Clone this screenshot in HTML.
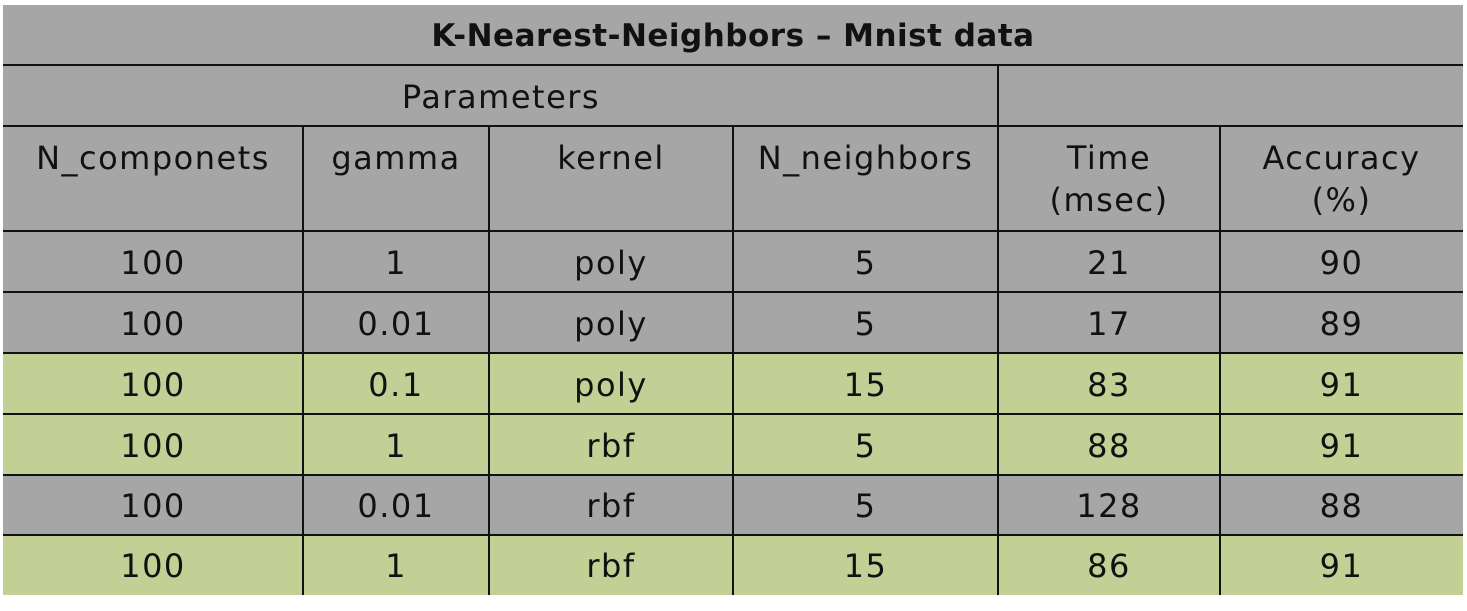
<!DOCTYPE html>
<html><head><style>
body{margin:0;width:1467px;height:611px;background:#fff;position:relative;overflow:hidden;font-family:"DejaVu Sans","Liberation Sans",sans-serif;}
.c{position:absolute;box-sizing:border-box;display:flex;align-items:center;justify-content:center;text-align:center;font-size:32px;color:#111;line-height:42px;letter-spacing:1.5px;font-weight:normal;}
.g{background:#a6a6a6}.v{background:#c2d096}
.h{position:absolute;background:#111;height:2px}
.w{position:absolute;background:#111;width:2px}
</style></head><body>
<div class="c g" style="left:3px;top:5px;width:1460px;height:61px;font-weight:bold;font-size:31px;letter-spacing:0.5px">K-Nearest-Neighbors – Mnist data</div>
<div class="c g" style="left:3px;top:66px;width:996px;height:61px;">Parameters</div>
<div class="c g" style="left:999px;top:66px;width:464px;height:61px;"></div>
<div class="c g" style="left:3px;top:127px;width:1460px;height:105px;"></div>
<div class="c" style="left:3px;top:137px;width:300px;height:42px;">N_componets</div>
<div class="c" style="left:303px;top:137px;width:186px;height:42px;">gamma</div>
<div class="c" style="left:489px;top:137px;width:244px;height:42px;">kernel</div>
<div class="c" style="left:733px;top:137px;width:265px;height:42px;">N_neighbors</div>
<div class="c" style="left:998px;top:137px;width:222px;height:84px;">Time<br>(msec)</div>
<div class="c" style="left:1220px;top:137px;width:243px;height:84px;">Accuracy<br>(%)</div>
<div id="rows"></div>
<script>
var d=[["100","1","poly","5","21","90",0],["100","0.01","poly","5","17","89",0],["100","0.1","poly","15","83","91",1],["100","1","rbf","5","88","91",1],["100","0.01","rbf","5","128","88",0],["100","1","rbf","15","86","91",1]];
var xs=[3,303,489,733,998,1220,1463];var ys=[232,293,354,415,476,536,595];var h="";
d.forEach(function(r,i){h+='<div class="c '+(r[6]?'v':'g')+'" style="left:3px;top:'+ys[i]+'px;width:1460px;height:'+(ys[i+1]-ys[i])+'px"></div>';
for(var j=0;j<6;j++)h+='<div class="c" style="left:'+xs[j]+'px;top:'+ys[i]+'px;width:'+(xs[j+1]-xs[j])+'px;height:'+(ys[i+1]-ys[i])+'px">'+r[j]+'</div>';});
[65,126,231,292,353,414,475,535].forEach(function(y){h+='<div class="h" style="left:3px;width:1460px;top:'+(y-1)+'px"></div>';});
h+='<div class="w" style="left:997px;top:65px;height:530px"></div>';
[303,489,733,1220].forEach(function(x){h+='<div class="w" style="left:'+(x-1)+'px;top:126px;height:469px"></div>';});
document.getElementById('rows').innerHTML=h;
</script>
</body></html>
